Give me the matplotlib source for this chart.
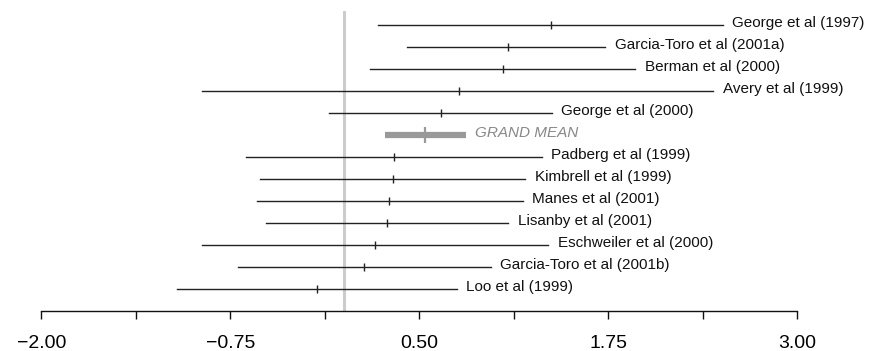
import numpy as np
import matplotlib.pyplot as plt

plt.rcParams['font.family'] = ['Liberation Sans', 'DejaVu Sans']

# studies, top to bottom (grand mean sits after the 5th row)
studies = ["George et al (1997)", "Garcia-Toro et al (2001a)", "Berman et al (2000)",
           "Avery et al (1999)", "George et al (2000)", "GRAND MEAN",
           "Padberg et al (1999)", "Kimbrell et al (1999)", "Manes et al (2001)",
           "Lisanby et al (2001)", "Eschweiler et al (2000)", "Garcia-Toro et al (2001b)",
           "Loo et al (1999)"]
lower = [0.227, 0.421, 0.174, -0.935, -0.097, 0.273,
         -0.648, -0.554, -0.575, -0.516, -0.939, -0.697, -1.101]
effect = [1.371, 1.085, 1.051, 0.765, 0.641, 0.538,
          0.331, 0.324, 0.302, 0.286, 0.209, 0.136, -0.179]
upper = [2.507, 1.728, 1.927, 2.444, 1.376, 0.807,
         1.309, 1.199, 1.184, 1.089, 1.353, 0.972, 0.747]
grand_idx = 5

ticks = [-2.0, -1.375, -0.75, -0.125, 0.5, 1.125, 1.75, 2.375, 3.0]
tick_labels = ["\u22122.00", "", "\u22120.75", "", "0.50", "", "1.75", "", "3.00"]

fig = plt.figure(figsize=(8.74, 3.51), dpi=100)
ax = fig.add_axes([41.3 / 874, 40 / 351, 756 / 874, 300 / 351])

ax.axvline(0, color='#cccccc', lw=2.2, zorder=0)

for i, (name, lo, m, hi) in enumerate(zip(studies, lower, effect, upper)):
    if i == grand_idx:
        ax.plot([lo, hi], [i, i], color='#999999', lw=4.5, solid_capstyle='butt')
        ax.plot([m], [i], marker='|', color='#999999', markersize=11, mew=1.6)
        ax.annotate(name, (hi, i), xytext=(7, 1), textcoords='offset points',
                    va='center', ha='left', fontsize=11, style='italic',
                    color='#888888', annotation_clip=False)
    else:
        ax.plot([lo, hi], [i, i], color='#222222', lw=1.0)
        ax.plot([m], [i], marker='|', color='#222222', markersize=6, mew=1.0)
        ax.annotate(name, (hi, i), xytext=(7, 1), textcoords='offset points',
                    va='center', ha='left', fontsize=11, color='#111111',
                    annotation_clip=False)

ax.set_xlim(-2, 3)
ax.set_ylim(len(studies) - 1 + 1.01, -0.62)
ax.set_xticks(ticks)
ax.set_xticklabels(tick_labels, fontsize=14)
ax.tick_params(axis='x', length=6, width=1, direction='out', pad=11, color='#111111')
ax.set_yticks([])
for side in ['top', 'left', 'right']:
    ax.spines[side].set_visible(False)
ax.spines['bottom'].set_linewidth(1.0)
ax.spines['bottom'].set_color('#111111')

fig.savefig('out.png', dpi=100)
